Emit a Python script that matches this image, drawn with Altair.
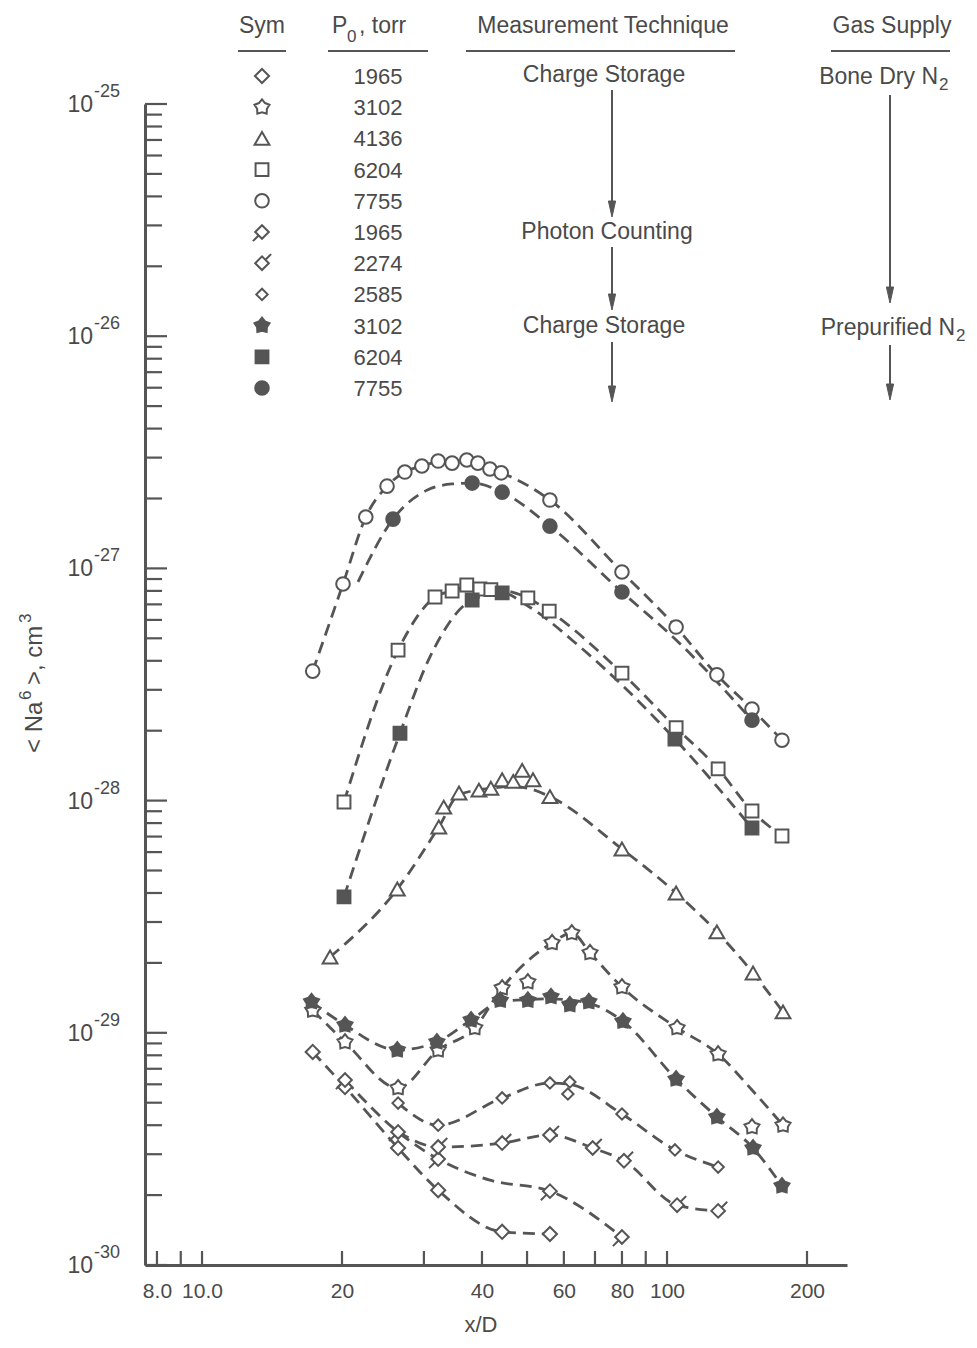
import altair as alt
import pandas as pd

GRAY = "#555555"
TEXT = "#4a4a4a"
FONT = "Liberation Sans"

W, H = 702, 1161
xscale = alt.Scale(type="log", domain=[7.54, 243.8], nice=False)
yscale = alt.Scale(type="log", domain=[1e-30, 1e-25], nice=False)

# ---------------- axis values ----------------
x_label_values = [8, 10, 20, 40, 60, 80, 100, 200]
x_tick_values = [8, 9, 10, 20, 30, 40, 50, 60, 70, 80, 90, 100, 200]
y_decades = [-30, -29, -28, -27, -26, -25]
y_mantissas = [2, 3, 4, 5, 6, 7, 8, 9]

# ---------------- data (x/D, <N a^6> cm^3) ----------------
# Bone dry N2, charge storage
bd1965_x = [17.3, 20.3, 26.4, 32.2, 44.2, 56.0]
bd1965_y = [8.27e-30, 5.84e-30, 3.19e-30, 2.10e-30, 1.39e-30, 1.36e-30]
bd1965_cx = bd1965_x
bd1965_cy = bd1965_y

bd3102_x = [17.3, 20.3, 26.4, 32.2, 38.6, 44.2, 50.2, 56.6, 62.4, 68.3, 80.0, 105.1, 128.8, 152.3, 177.6]
bd3102_y = [1.25e-29, 9.13e-30, 5.79e-30, 8.43e-30, 1.05e-29, 1.56e-29, 1.655e-29, 2.44e-29, 2.69e-29,
            2.21e-29, 1.575e-29, 1.05e-29, 8.1e-30, 3.93e-30, 4.0e-30]
bd3102_cx = [17.3, 20.3, 26.4, 32.2, 38.6, 44.2, 56.6, 62.4, 68.3, 80.0, 105.1, 128.8, 152.3, 177.6]
bd3102_cy = [1.25e-29, 9.13e-30, 5.79e-30, 8.43e-30, 1.05e-29, 1.56e-29, 2.44e-29, 2.69e-29, 2.21e-29,
             1.575e-29, 1.05e-29, 8.1e-30, 5.67e-30, 4.0e-30]

bd4136_x = [18.85, 26.3, 32.3, 33.1, 35.7, 39.4, 41.8, 44.2, 46.7, 48.8, 51.5, 56.0, 80.0, 104.6, 128.0, 153.1, 177.6]
bd4136_y = [2.12e-29, 4.16e-29, 7.70e-29, 9.38e-29, 1.078e-28, 1.11e-28, 1.13e-28, 1.23e-28, 1.21e-28,
            1.35e-28, 1.23e-28, 1.04e-28, 6.19e-29, 4.0e-29, 2.72e-29, 1.81e-29, 1.23e-29]
bd4136_cx = [18.85, 26.3, 32.3, 35.7, 41.8, 46.0, 50.2, 56.0, 80.0, 104.6, 128.0, 153.1, 177.6]
bd4136_cy = [2.12e-29, 4.16e-29, 7.7e-29, 1.06e-28, 1.13e-28, 1.15e-28, 1.13e-28, 1.04e-28, 6.19e-29,
             4.0e-29, 2.72e-29, 1.81e-29, 1.23e-29]

bd6204_x = [20.2, 26.4, 31.7, 34.5, 37.1, 39.6, 41.8, 50.2, 55.8, 80.0, 104.6, 128.8, 152.3, 176.7]
bd6204_y = [9.86e-29, 4.45e-28, 7.53e-28, 7.99e-28, 8.48e-28, 8.15e-28, 8.1e-28, 7.46e-28, 6.55e-28,
            3.54e-28, 2.06e-28, 1.37e-28, 9.02e-29, 7.04e-29]
bd6204_cx = [20.2, 26.4, 31.7, 34.5, 37.1, 41.8, 50.2, 55.8, 80.0, 104.6, 128.8, 152.3, 176.7]
bd6204_cy = [9.86e-29, 4.45e-28, 7.53e-28, 8.0e-28, 8.3e-28, 8.2e-28, 7.46e-28, 6.55e-28, 3.54e-28,
             2.06e-28, 1.37e-28, 9.02e-29, 7.04e-29]

bd7755_x = [17.3, 20.1, 22.5, 25.0, 27.3, 29.7, 32.2, 34.5, 37.1, 39.2, 41.6, 44.0, 56.0, 80.0, 104.6, 128.0, 152.3, 176.7]
bd7755_y = [3.61e-28, 8.57e-28, 1.665e-27, 2.26e-27, 2.60e-27, 2.76e-27, 2.90e-27, 2.84e-27, 2.93e-27,
            2.84e-27, 2.68e-27, 2.58e-27, 1.97e-27, 9.65e-28, 5.59e-28, 3.48e-28, 2.48e-28, 1.82e-28]
bd7755_cx = [17.3, 20.1, 22.5, 25.0, 27.3, 29.7, 32.2, 36.0, 39.2, 41.6, 44.0, 56.0, 80.0, 104.6, 128.0, 152.3, 176.7]
bd7755_cy = [3.61e-28, 8.57e-28, 1.665e-27, 2.26e-27, 2.60e-27, 2.76e-27, 2.88e-27, 2.92e-27, 2.84e-27,
             2.68e-27, 2.58e-27, 1.97e-27, 9.65e-28, 5.59e-28, 3.48e-28, 2.48e-28, 1.82e-28]

# Photon counting
pc1965_x = [20.3, 26.4, 32.2, 56.0, 80.0]
pc1965_y = [6.26e-30, 3.74e-30, 2.86e-30, 2.08e-30, 1.32e-30]
pc1965_cx = [20.3, 26.4, 32.2, 41.6, 56.0, 80.0]
pc1965_cy = [6.26e-30, 3.74e-30, 2.86e-30, 2.32e-30, 2.08e-30, 1.32e-30]

pc2274_x = [32.2, 44.2, 56.0, 69.2, 80.8, 105.1, 128.8]
pc2274_y = [3.22e-30, 3.35e-30, 3.63e-30, 3.19e-30, 2.81e-30, 1.81e-30, 1.71e-30]
pc2274_cx = [26.4, 32.2, 44.2, 56.0, 69.2, 80.8, 105.1, 128.8]
pc2274_cy = [3.74e-30, 3.22e-30, 3.35e-30, 3.63e-30, 3.19e-30, 2.81e-30, 1.81e-30, 1.71e-30]

pc2585_x = [26.4, 32.2, 44.2, 56.0, 61.8, 61.2, 80.0, 104.0, 128.8]
pc2585_y = [4.98e-30, 4.0e-30, 5.24e-30, 6.08e-30, 6.14e-30, 5.45e-30, 4.47e-30, 3.13e-30, 2.64e-30]
pc2585_cx = [26.4, 32.2, 44.2, 56.0, 61.8, 80.0, 104.0, 128.8]
pc2585_cy = [4.98e-30, 4.0e-30, 5.24e-30, 6.08e-30, 6.0e-30, 4.47e-30, 3.13e-30, 2.64e-30]

# Prepurified N2, charge storage
pp3102_x = [17.2, 20.3, 26.3, 32.0, 37.9, 43.8, 50.2, 56.3, 61.8, 67.9, 80.4, 104.6, 128.0, 153.1, 176.7]
pp3102_y = [1.36e-29, 1.08e-29, 8.43e-30, 9.13e-30, 1.135e-29, 1.38e-29, 1.38e-29, 1.43e-29, 1.32e-29,
            1.36e-29, 1.12e-29, 6.32e-30, 4.34e-30, 3.19e-30, 2.19e-30]
pp3102_cx = [17.2, 20.3, 26.3, 32.0, 37.9, 43.8, 50.2, 56.3, 67.9, 80.4, 104.6, 128.0, 153.1, 176.7]
pp3102_cy = [1.36e-29, 1.08e-29, 8.43e-30, 9.13e-30, 1.135e-29, 1.36e-29, 1.39e-29, 1.40e-29, 1.34e-29,
             1.12e-29, 6.32e-30, 4.34e-30, 3.19e-30, 2.19e-30]

pp6204_x = [20.2, 26.65, 38.1, 44.2, 104.0, 152.3]
pp6204_y = [3.85e-29, 1.95e-28, 7.31e-28, 7.84e-28, 1.84e-28, 7.62e-29]
pp6204_cx = [20.2, 26.65, 30.9, 38.1, 44.2, 50.2, 65.0, 104.0, 152.3]
pp6204_cy = [3.85e-29, 1.95e-28, 4.15e-28, 7.31e-28, 7.84e-28, 6.89e-28, 4.59e-28, 1.84e-28, 7.62e-29]

pp7755_x = [25.75, 38.1, 44.2, 56.0, 80.0, 152.3]
pp7755_y = [1.63e-27, 2.33e-27, 2.13e-27, 1.52e-27, 7.91e-28, 2.22e-28]
pp7755_cx = [21.65, 25.75, 30.6, 34.5, 38.1, 44.2, 56.0, 80.0, 104.6, 152.3]
pp7755_cy = [8.74e-28, 1.63e-27, 2.18e-27, 2.31e-27, 2.33e-27, 2.13e-27, 1.52e-27, 7.91e-28, 4.92e-28, 2.22e-28]

legend_pressures = ["1965", "3102", "4136", "6204", "7755", "1965", "2274", "2585", "3102", "6204", "7755"]

# ---------------- symbol shapes ----------------
PENT = ("M0,-1L0.382,-0.526L0.951,-0.309L0.618,0.201L0.588,0.809L0,0.65L-0.588,0.809"
        "L-0.618,0.201L-0.951,-0.309L-0.382,-0.526Z")
STEM_DIA = "M0,-0.75L0.75,0L0,0.75L-0.75,0Z M-0.38,0.38L-1,1"
ALPHA = "M-0.75,0L0,0.75L0.75,0L0,-0.75Z M0.38,-0.38L1,-1"
ARROW = "M-0.45,-1L0.45,-1L0,1Z"

series = [
    ("bd1965", "diamond", False, 200, bd1965_x, bd1965_y, bd1965_cx, bd1965_cy),
    ("bd3102", PENT, False, 250, bd3102_x, bd3102_y, bd3102_cx, bd3102_cy),
    ("bd4136", "triangle-up", False, 220, bd4136_x, bd4136_y, bd4136_cx, bd4136_cy),
    ("bd6204", "square", False, 165, bd6204_x, bd6204_y, bd6204_cx, bd6204_cy),
    ("bd7755", "circle", False, 185, bd7755_x, bd7755_y, bd7755_cx, bd7755_cy),
    ("pc1965", STEM_DIA, False, 330, pc1965_x, pc1965_y, pc1965_cx, pc1965_cy),
    ("pc2274", ALPHA, False, 330, pc2274_x, pc2274_y, pc2274_cx, pc2274_cy),
    ("pc2585", "diamond", False, 130, pc2585_x, pc2585_y, pc2585_cx, pc2585_cy),
    ("pp3102", PENT, True, 250, pp3102_x, pp3102_y, pp3102_cx, pp3102_cy),
    ("pp6204", "square", True, 165, pp6204_x, pp6204_y, pp6204_cx, pp6204_cy),
    ("pp7755", "circle", True, 185, pp7755_x, pp7755_y, pp7755_cx, pp7755_cy),
]

xaxis = alt.Axis(values=x_label_values,
                 labelExpr="datum.value < 11 ? format(datum.value, '.1f') : format(datum.value, 'd')",
                 ticks=False, grid=False, domain=True, domainColor=GRAY, domainWidth=3,
                 labelFont=FONT, labelFontSize=21, labelColor=TEXT, labelPadding=15,
                 labelOverlap=False, labelFlush=False, title="")
yaxis = alt.Axis(labels=False, ticks=False, grid=False, domain=True, domainColor=GRAY,
                 domainWidth=3, title="")


def X(f="x"):
    return alt.X(f"{f}:Q", scale=xscale, axis=xaxis)


def Y(f="y"):
    return alt.Y(f"{f}:Q", scale=yscale, axis=yaxis)


def PX():
    return alt.X("px:Q", scale=None)


def PY():
    return alt.Y("py:Q", scale=None)


line_layers, point_layers, legend_layers = [], [], []
ROW0, ROWSTEP, SYM_X, NUM_X = -28, 31.2, 117, 233
for i, (key, shape, filled, size, xs, ys, cxs, cys) in enumerate(series):
    fill = GRAY if filled else "white"
    line_layers.append(
        alt.Chart(pd.DataFrame({"x": cxs, "y": cys})).mark_line(
            interpolate="monotone", color=GRAY, strokeWidth=2.8, strokeDash=[12, 7]
        ).encode(x=X(), y=Y())
    )
    point_layers.append(
        alt.Chart(pd.DataFrame({"x": xs, "y": ys})).mark_point(
            shape=shape, filled=True, fill=fill, stroke=GRAY, strokeWidth=2,
            size=size, opacity=1, fillOpacity=1
        ).encode(x=X(), y=Y())
    )
    legend_layers.append(
        alt.Chart(pd.DataFrame({"px": [SYM_X], "py": [ROW0 + ROWSTEP * i]})).mark_point(
            shape=shape, filled=True, fill=fill, stroke=GRAY, strokeWidth=2,
            size=size, opacity=1, fillOpacity=1
        ).encode(x=PX(), y=PY())
    )

# pressure column
press_df = pd.DataFrame({"t": legend_pressures,
                         "px": [NUM_X] * len(legend_pressures),
                         "py": [ROW0 + ROWSTEP * i + 1 for i in range(len(legend_pressures))]})
legend_layers.append(
    alt.Chart(press_df).mark_text(font=FONT, fontSize=22, color=TEXT, align="center",
                                  baseline="middle").encode(x=PX(), y=PY(), text="t:N"))


def texts(rows, **mk):
    d = pd.DataFrame(rows, columns=["t", "px", "py"])
    return alt.Chart(d).mark_text(color=TEXT, **mk).encode(x=PX(), y=PY(), text="t:N")


# headers
legend_layers.append(texts([("Sym", 117, -71), ("Measurement Technique", 458, -71),
                            ("Gas Supply", 747, -71)],
                           font=FONT, fontSize=23, align="center", baseline="alphabetic"))
legend_layers.append(texts([("P", 187, -71), (", torr", 214, -71)],
                           font=FONT, fontSize=23, align="left", baseline="alphabetic"))
legend_layers.append(texts([("0", 202, -62)], font=FONT, fontSize=17, align="left",
                           baseline="alphabetic"))
# header underlines
ul = pd.DataFrame({"px": [93, 183, 321, 686], "px2": [141, 283, 590, 805],
                   "py": [-53] * 4})
legend_layers.append(alt.Chart(ul).mark_rule(color=GRAY, strokeWidth=2).encode(
    x=PX(), x2="px2:Q", y=PY()))
# technique / gas supply texts
legend_layers.append(texts([("Charge Storage", 459, -29), ("Photon Counting", 462, 128),
                            ("Charge Storage", 459, 222)],
                           font=FONT, fontSize=23, align="center", baseline="middle"))
legend_layers.append(texts([("Bone Dry N", 793, -27), ("Prepurified N", 810, 224)],
                           font=FONT, fontSize=23, align="right", baseline="middle"))
legend_layers.append(texts([("2", 794, -19), ("2", 811, 232)],
                           font=FONT, fontSize=17, align="left", baseline="middle"))
# arrows
arr = pd.DataFrame({"px": [467, 467, 467, 745, 745], "py": [-14, 143, 238, -9, 241],
                    "py2": [106, 199, 291, 192, 289]})
legend_layers.append(alt.Chart(arr).mark_rule(color=GRAY, strokeWidth=2).encode(
    x=PX(), y=PY(), y2="py2:Q"))
heads = pd.DataFrame({"px": [467, 467, 467, 745, 745], "py": [105, 198, 290, 191, 288]})
legend_layers.append(alt.Chart(heads).mark_point(shape=ARROW, filled=True, fill=GRAY,
                                                 stroke=GRAY, strokeWidth=1, size=256,
                                                 opacity=1).encode(x=PX(), y=PY()))

# axis titles
legend_layers.append(texts([("x/D", 336, 1221)], font=FONT, fontSize=22, align="center",
                           baseline="middle"))
legend_layers.append(texts([("< Na", -110, 649), (">, cm", -110, 581)], font=FONT,
                           fontSize=24, align="left", baseline="middle", angle=270))
legend_layers.append(texts([("6", -119, 596), ("3", -119, 519)], font=FONT,
                           fontSize=17, align="left", baseline="middle", angle=270))

# ---------------- custom ticks ----------------
ymaj = pd.DataFrame({"y": [10.0 ** e for e in y_decades],
                     "e": [f"-{abs(e)}" for e in y_decades]})
ymin = pd.DataFrame({"y": [m * 10.0 ** e for e in y_decades[:-1] for m in y_mantissas]})
xt = pd.DataFrame({"x": x_tick_values})

tick_layers = [
    alt.Chart(ymaj).mark_rule(color=GRAY, strokeWidth=2.2).encode(
        y=Y(), x=alt.value(0), x2=alt.value(22)),
    alt.Chart(ymin).mark_rule(color=GRAY, strokeWidth=2.2).encode(
        y=Y(), x=alt.value(0), x2=alt.value(17)),
    alt.Chart(xt).mark_rule(color=GRAY, strokeWidth=2.2).encode(
        x=X(), y=alt.value(H), y2=alt.value(H - 14)),
    alt.Chart(ymaj).mark_text(font=FONT, fontSize=23, color=TEXT, align="right",
                              baseline="middle", dy=1).encode(
        y=Y(), x=alt.value(-52), text=alt.value("10")),
    alt.Chart(ymaj).mark_text(font=FONT, fontSize=18, color=TEXT, align="left",
                              baseline="middle", dy=-12).encode(
        y=Y(), x=alt.value(-51), text="e:N"),
]

chart = alt.layer(*tick_layers, *line_layers, *point_layers, *legend_layers).properties(
    width=W, height=H,
    autosize=alt.AutoSizeParams(type="none"),
    padding={"left": 137, "top": 96, "right": 122, "bottom": 75},
    background="white",
).configure_view(stroke=None)

chart.save("out.html", embed_options={"renderer": "svg", "actions": False})
